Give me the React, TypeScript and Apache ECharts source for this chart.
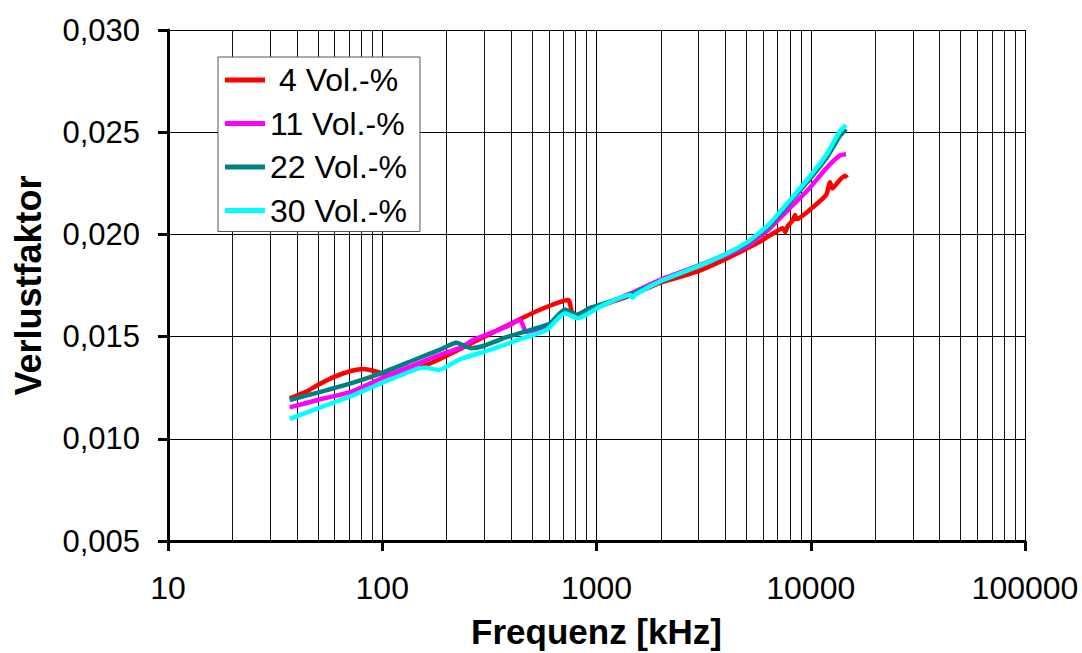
import React, { useEffect, useRef } from "react";
import * as echarts from "echarts";

const seriesNames = ["4 Vol.-%", "11 Vol.-%", "22 Vol.-%", "30 Vol.-%"];
const seriesColors = ["#FF0000", "#FF00FF", "#008080", "#00FFFF"];

const xTickLabels = [10, 100, 1000, 10000, 100000];
const minorGridX = [
  20, 30, 40, 50, 60, 70, 80, 90,
  200, 300, 400, 500, 600, 700, 800, 900,
  2000, 3000, 4000, 5000, 6000, 7000, 8000, 9000,
  20000, 30000, 40000, 50000, 60000, 70000, 80000, 90000,
];

const redF = [37, 44, 50, 60, 72, 82, 91, 103, 115, 137, 170, 226, 266, 380, 541, 738, 767, 806, 931, 1036, 1434, 1971, 2950, 3930, 5050, 5780, 6450, 7420, 7600, 7800, 8260, 8450, 8600, 9870, 11800, 12300, 12600, 13650, 14450, 14800];
const redV = [0.01198, 0.0123, 0.01263, 0.01304, 0.01333, 0.01342, 0.01333, 0.01317, 0.01316, 0.01337, 0.01372, 0.01435, 0.01472, 0.01553, 0.0163, 0.01679, 0.01622, 0.01606, 0.01635, 0.0165, 0.017, 0.01762, 0.01818, 0.01875, 0.01932, 0.01964, 0.01995, 0.0203, 0.02012, 0.0204, 0.02071, 0.02095, 0.02075, 0.02119, 0.02193, 0.02255, 0.02225, 0.02266, 0.02287, 0.02277];

const magF = [37, 50, 72, 99, 147, 185, 234, 266, 380, 440, 470, 607, 712, 806, 931, 1036, 1434, 1971, 2950, 3930, 5050, 5780, 6450, 8260, 9870, 11800, 13650, 14600];
const magV = [0.01154, 0.0119, 0.01231, 0.01296, 0.01369, 0.0141, 0.01448, 0.01484, 0.01548, 0.01581, 0.01524, 0.01557, 0.01622, 0.01598, 0.0164, 0.01649, 0.0171, 0.01777, 0.01845, 0.01895, 0.01943, 0.0199, 0.0203, 0.02144, 0.02226, 0.02323, 0.02385, 0.02392];

const tealF = [37, 50, 72, 99, 147, 185, 222, 261, 296, 380, 489, 607, 712, 806, 931, 1036, 1434, 1971, 2950, 3930, 5050, 5780, 6450, 8260, 9870, 11800, 13650, 14600];
const tealV = [0.0119, 0.01226, 0.01272, 0.01321, 0.01394, 0.01435, 0.0147, 0.01443, 0.01454, 0.01497, 0.01532, 0.01565, 0.01633, 0.01606, 0.01639, 0.01655, 0.01704, 0.01769, 0.01842, 0.01899, 0.01955, 0.02003, 0.02045, 0.02175, 0.0227, 0.02372, 0.0248, 0.02516];

const cyanF = [37, 50, 72, 99, 147, 160, 183, 230, 318, 453, 585, 712, 820, 1036, 1434, 1480, 1520, 1971, 2950, 3930, 5050, 5780, 6450, 8260, 9870, 11800, 13650, 14600];
const cyanV = [0.01097, 0.01149, 0.0121, 0.01272, 0.01345, 0.01348, 0.01337, 0.01389, 0.01435, 0.01492, 0.01532, 0.01614, 0.0159, 0.01646, 0.01704, 0.0169, 0.01706, 0.01769, 0.01842, 0.01899, 0.01962, 0.0201, 0.02055, 0.02185, 0.02282, 0.02388, 0.02503, 0.02535];

const seriesF = [redF, magF, tealF, cyanF];
const seriesV = [redV, magV, tealV, cyanV];

const FONT = "'Liberation Sans', Arial, sans-serif";

export default function App() {
  const ref = useRef<HTMLDivElement>(null);
  useEffect(() => {
    if (!ref.current) return;
    const chart = echarts.init(ref.current, null, { renderer: "svg" });
    const lineSeries: any[] = seriesNames.map((name, i) => ({
      name,
      type: "line",
      data: seriesF[i].map((f, j) => [f, seriesV[i][j]]),
      showSymbol: false,
      symbol: "none",
      smooth: 0.2,
      lineStyle: { color: seriesColors[i], width: 4.5 },
      itemStyle: { color: seriesColors[i] },
      z: 3 + i,
    }));
    lineSeries.push({
      name: "grid-minor",
      type: "line",
      data: [],
      silent: true,
      markLine: {
        silent: true,
        symbol: "none",
        z: 1,
        label: { show: false },
        lineStyle: { color: "#111", width: 1, type: "solid" },
        data: minorGridX.map((x) => ({ xAxis: x })),
      },
    });
    chart.setOption({
      animation: false,
      backgroundColor: "#fff",
      grid: { left: 168, right: 57, top: 30, bottom: 112, containLabel: false, outerBoundsMode: "none" },
      legend: {
        data: seriesNames,
        orient: "vertical",
        left: 218,
        top: 57,
        backgroundColor: "#fff",
        borderColor: "#555",
        borderWidth: 1,
        padding: [6, 13, 4, 7],
        itemGap: 9.5,
        itemWidth: 40,
        itemHeight: 5,
        icon: "rect",
        formatter: (name: string) =>
          name === "4 Vol.-%" ? `{b|${name}}` : `{a|${name}}`,
        textStyle: {
          fontFamily: FONT,
          fontSize: 32,
          color: "#000",
          lineHeight: 34,
          rich: {
            a: { fontFamily: FONT, fontSize: 32, color: "#000", lineHeight: 34 },
            b: { fontFamily: FONT, fontSize: 32, color: "#000", lineHeight: 34, padding: [0, 0, 0, 9] },
          },
        },
      },
      xAxis: {
        type: "log",
        logBase: 10,
        min: xTickLabels[0],
        max: xTickLabels[xTickLabels.length - 1],
        name: "Frequenz [kHz]",
        nameLocation: "middle",
        nameGap: 72,
        nameTextStyle: { fontFamily: FONT, fontSize: 35, fontWeight: "bold", color: "#000", lineHeight: 36 },
        axisLine: { show: true, lineStyle: { color: "#000", width: 3 } },
        axisTick: { show: true, inside: false, length: 10, lineStyle: { color: "#000", width: 3 } },
        axisLabel: {
          fontFamily: FONT,
          fontSize: 32,
          color: "#000",
          margin: 31,
          formatter: (v: number) => String(Math.round(v)),
        },
        splitLine: { show: true, lineStyle: { color: "#000", width: 1 } },
        minorTick: { show: false },
      },
      yAxis: {
        type: "value",
        min: 0.005,
        max: 0.03,
        interval: 0.005,
        name: "Verlustfaktor",
        nameLocation: "middle",
        nameGap: 122,
        nameTextStyle: { fontFamily: FONT, fontSize: 36, fontWeight: "bold", color: "#000" },
        axisLine: { show: true, lineStyle: { color: "#000", width: 3 } },
        axisTick: { show: true, inside: false, length: 10, lineStyle: { color: "#000", width: 3 } },
        axisLabel: {
          fontFamily: FONT,
          fontSize: 31,
          color: "#000",
          margin: 28,
          formatter: (v: number) => v.toFixed(3).replace(".", ","),
        },
        splitLine: { show: true, lineStyle: { color: "#000", width: 1 } },
      },
      series: lineSeries,
    });
    return () => chart.dispose();
  }, []);
  return (
    <div
      ref={ref}
      style={{ position: "fixed", left: 0, top: 0, width: 1082, height: 653, background: "#fff" }}
    />
  );
}
